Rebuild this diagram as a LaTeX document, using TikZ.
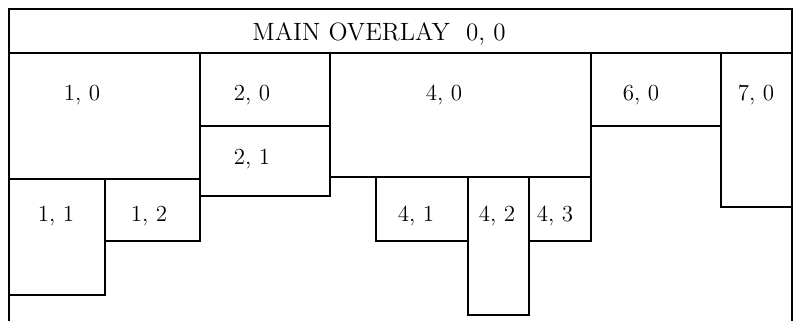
\documentclass[tikz,border=0pt]{standalone}
\begin{document}
\begin{tikzpicture}[x=0.5pt,y=-0.5pt,
  seg/.style={draw=black,line width=0.9pt},
  lbl/.style={anchor=base,inner sep=0pt,font=\fontsize{11.5}{14}\selectfont},
  ttl/.style={anchor=base,inner sep=0pt,font=\fontsize{12.5}{15}\selectfont}]
\useasboundingbox (0,0) rectangle (793,321);
% outer frame (open at the bottom)
\draw[seg] (9,321) -- (9,9) -- (792,9) -- (792,321);
% main overlay strip
\draw[seg] (9,9) rectangle (792,53);
% overlay segments
\draw[seg] (9,53) rectangle (200,179);     % 1,0
\draw[seg] (9,179) rectangle (105,295);    % 1,1
\draw[seg] (105,179) rectangle (200,241);  % 1,2
\draw[seg] (200,53) rectangle (330,126);   % 2,0
\draw[seg] (200,126) rectangle (330,196);  % 2,1
\draw[seg] (330,53) rectangle (591,177);   % 4,0
\draw[seg] (376,177) rectangle (468,241);  % 4,1
\draw[seg] (468,177) rectangle (529,315);  % 4,2
\draw[seg] (529,177) rectangle (591,241);  % 4,3
\draw[seg] (591,53) rectangle (721,126);   % 6,0
\draw[seg] (721,53) rectangle (792,207);   % 7,0
% labels
\node[ttl] (main) at (379,40) {MAIN OVERLAY\ \ 0, 0};
\node[lbl] (t10) at (82,100) {1, 0};
\node[lbl] (t20) at (252,100) {2, 0};
\node[lbl] (t40) at (444,100) {4, 0};
\node[lbl] (t60) at (641,100) {6, 0};
\node[lbl] (t70) at (756,100) {7, 0};
\node[lbl] (t21) at (252,164) {2, 1};
\node[lbl] (t11) at (56,221) {1, 1};
\node[lbl] (t12) at (149,221) {1, 2};
\node[lbl] (t41) at (416,221) {4, 1};
\node[lbl] (t42) at (497,221) {4, 2};
\node[lbl] (t43) at (555,221) {4, 3};
\end{tikzpicture}
\end{document}
